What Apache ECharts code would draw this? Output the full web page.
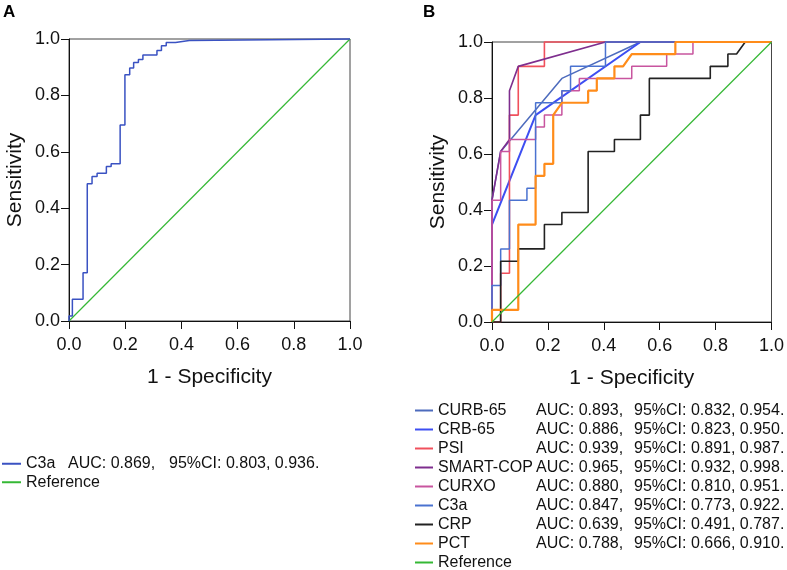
<!DOCTYPE html>
<html>
<head>
<meta charset="utf-8">
<script src="https://cdn.jsdelivr.net/npm/echarts@6/dist/echarts.min.js"></script>
<style>
html,body{margin:0;padding:0;background:#fff;}
#chart{width:787px;height:570px;}
</style>
</head>
<body>
<div id="chart"></div>
<script>
// ---------- Data ----------
const tickValues = [0, 0.2, 0.4, 0.6, 0.8, 1.0];
const tickLabels = ['0.0', '0.2', '0.4', '0.6', '0.8', '1.0'];

// Panel A : C3a
const aC3aX = [0, 0, 0.012, 0.012, 0.050, 0.050, 0.065, 0.065, 0.082, 0.082, 0.100, 0.100, 0.133, 0.133, 0.150, 0.150, 0.182, 0.182, 0.199, 0.199, 0.216, 0.216, 0.230, 0.230, 0.247, 0.247, 0.263, 0.263, 0.313, 0.313, 0.329, 0.329, 0.346, 0.346, 0.379, 0.379, 0.428, 0.428, 1];
const aC3aY = [0, 0.018, 0.018, 0.077, 0.077, 0.171, 0.171, 0.487, 0.487, 0.512, 0.512, 0.524, 0.524, 0.548, 0.548, 0.558, 0.558, 0.695, 0.695, 0.873, 0.873, 0.897, 0.897, 0.917, 0.917, 0.927, 0.927, 0.943, 0.943, 0.959, 0.959, 0.976, 0.976, 0.988, 0.988, 0.995, 0.995, 1, 1];
const refX = [0, 1];
const refY = [0, 1];

// Panel B
const curbX = [0, 0, 0.031, 0.25, 0.531, 1];
const curbY = [0, 0.435, 0.609, 0.870, 1, 1];
const crbX = [0, 0, 0.156, 0.531, 1];
const crbY = [0, 0.348, 0.739, 1, 1];
const psiX = [0, 0.031, 0.031, 0.0625, 0.0625, 0.094, 0.094, 0.1875, 0.1875, 1];
const psiY = [0, 0, 0.174, 0.174, 0.739, 0.739, 0.913, 0.913, 1, 1];
const smartX = [0, 0, 0.031, 0.0625, 0.0625, 0.094, 0.406, 1];
const smartY = [0, 0.435, 0.609, 0.652, 0.826, 0.913, 1, 1];
const curxoX = [0, 0, 0.031, 0.031, 0.0625, 0.0625, 0.156, 0.156, 0.1875, 0.1875, 0.25, 0.25, 0.3125, 0.3125, 0.5, 0.5, 0.625, 0.625, 0.719, 0.719, 1];
const curxoY = [0, 0.435, 0.435, 0.609, 0.609, 0.652, 0.652, 0.696, 0.696, 0.739, 0.739, 0.826, 0.826, 0.870, 0.870, 0.913, 0.913, 0.957, 0.957, 1, 1];
const bC3aX = [0, 0, 0.031, 0.031, 0.0625, 0.0625, 0.125, 0.125, 0.156, 0.156, 0.25, 0.25, 0.281, 0.281, 0.406, 0.406, 1];
const bC3aY = [0, 0.130, 0.130, 0.261, 0.261, 0.435, 0.435, 0.478, 0.478, 0.783, 0.783, 0.826, 0.826, 0.913, 0.913, 1, 1];
const crpX = [0, 0.031, 0.031, 0.094, 0.094, 0.1875, 0.1875, 0.25, 0.25, 0.344, 0.344, 0.438, 0.438, 0.531, 0.531, 0.563, 0.563, 0.781, 0.781, 0.844, 0.844, 0.875, 0.906, 1];
const crpY = [0, 0, 0.217, 0.217, 0.261, 0.261, 0.348, 0.348, 0.391, 0.391, 0.609, 0.609, 0.652, 0.652, 0.739, 0.739, 0.870, 0.870, 0.913, 0.913, 0.957, 0.957, 1, 1];
const pctX = [0, 0, 0.094, 0.094, 0.156, 0.156, 0.1875, 0.1875, 0.219, 0.219, 0.25, 0.344, 0.344, 0.375, 0.375, 0.438, 0.438, 0.469, 0.5, 0.656, 0.656, 1];
const pctY = [0, 0.043, 0.043, 0.348, 0.348, 0.522, 0.522, 0.565, 0.565, 0.739, 0.783, 0.783, 0.826, 0.826, 0.870, 0.870, 0.913, 0.913, 0.957, 0.957, 1, 1];

// Legend texts
const namesA = ['C3a', 'Reference'];
const aucA = ['0.869'];
const ciLowA = ['0.803'];
const ciHighA = ['0.936'];
const namesB = ['CURB-65', 'CRB-65', 'PSI', 'SMART-COP', 'CURXO', 'C3a', 'CRP', 'PCT', 'Reference'];
const aucB = ['0.893', '0.886', '0.939', '0.965', '0.880', '0.847', '0.639', '0.788'];
const ciLowB = ['0.832', '0.823', '0.891', '0.932', '0.810', '0.773', '0.491', '0.666'];
const ciHighB = ['0.954', '0.950', '0.987', '0.998', '0.951', '0.922', '0.787', '0.910'];

// ---------- Styling ----------
const FONT = "'Liberation Sans', Arial, Helvetica, sans-serif";
const colorsA = ['#3a52c2', '#35b835'];
const colorsB = ['#4d6bbd', '#3d4ef2', '#f0505c', '#7e2e8e', '#c8559f', '#4a72d0', '#222222', '#ff8c1a', '#35b835'];
const widthsB = [1.5, 2, 1.6, 1.6, 1.5, 1.5, 1.6, 2.2, 1.2];

function pairs(xs, ys) { return xs.map((x, i) => [x, ys[i]]); }

const curvesB = [
  pairs(curbX, curbY), pairs(crbX, crbY), pairs(psiX, psiY), pairs(smartX, smartY),
  pairs(curxoX, curxoY), pairs(bC3aX, bC3aY), pairs(crpX, crpY), pairs(pctX, pctY),
  pairs(refX, refY)
];

function tickFmt(v) { return tickLabels[tickValues.findIndex(t => Math.abs(t - v) < 1e-6)]; }

function xAxisFor(gi) {
  return {
    type: 'value', gridIndex: gi, min: 0, max: 1, interval: 0.2,
    name: '1 - Specificity', nameLocation: 'middle', nameGap: 46,
    nameTextStyle: { fontSize: 21, color: '#111', fontFamily: FONT },
    axisLine: { show: true, onZero: false, lineStyle: { color: '#111', width: 1 } },
    axisTick: { show: true, length: 8, lineStyle: { color: '#111', width: 1 } },
    axisLabel: { margin: 15, fontSize: 18, color: '#111', fontFamily: FONT, formatter: tickFmt },
    splitLine: { show: false }
  };
}
function yAxisFor(gi) {
  return {
    type: 'value', gridIndex: gi, min: 0, max: 1, interval: 0.2,
    name: 'Sensitivity', nameLocation: 'middle', nameGap: 43, nameRotate: 90,
    nameTextStyle: { fontSize: 21, color: '#111', fontFamily: FONT },
    axisLine: { show: true, onZero: false, lineStyle: { color: '#111', width: 1 } },
    axisTick: { show: true, length: 8, lineStyle: { color: '#111', width: 1 } },
    axisLabel: { margin: 9, fontSize: 18, color: '#111', fontFamily: FONT, formatter: tickFmt },
    splitLine: { show: false }
  };
}

const series = [];
series.push({
  name: 'A:' + namesA[0], type: 'line', xAxisIndex: 0, yAxisIndex: 0,
  data: pairs(aC3aX, aC3aY), showSymbol: false, symbol: 'none', clip: false,
  itemStyle: { color: colorsA[0] }, lineStyle: { color: colorsA[0], width: 1.5 }, z: 3
});
series.push({
  name: 'A:' + namesA[1], type: 'line', xAxisIndex: 0, yAxisIndex: 0,
  data: pairs(refX, refY), showSymbol: false, symbol: 'none', clip: false,
  itemStyle: { color: colorsA[1] }, lineStyle: { color: colorsA[1], width: 1.2 }, z: 2
});
namesB.forEach((n, i) => {
  series.push({
    name: 'B:' + n, type: 'line', xAxisIndex: 1, yAxisIndex: 1,
    data: curvesB[i], showSymbol: false, symbol: 'none', clip: false,
    itemStyle: { color: colorsB[i] }, lineStyle: { color: colorsB[i], width: widthsB[i] },
    z: 3 + i
  });
});

const legendTextA = {};
namesA.forEach((n, i) => {
  legendTextA['A:' + n] = i < aucA.length
    ? '{n|' + n + '}{a|AUC: ' + aucA[i] + ',}{c|95%CI: ' + ciLowA[i] + ', ' + ciHighA[i] + '.}'
    : '{n|' + n + '}';
});
const legendTextB = {};
namesB.forEach((n, i) => {
  legendTextB['B:' + n] = i < aucB.length
    ? '{n|' + n + '}{a|AUC: ' + aucB[i] + ',}{c|95%CI: ' + ciLowB[i] + ', ' + ciHighB[i] + '.}'
    : '{n|' + n + '}';
});

const option = {
  animation: false,
  backgroundColor: '#fff',
  grid: [
    { left: 69, top: 39, width: 281, height: 282, show: true, borderColor: '#444', borderWidth: 1, backgroundColor: 'transparent' },
    { left: 492, top: 42, width: 280, height: 280, show: true, borderColor: '#444', borderWidth: 1, backgroundColor: 'transparent' }
  ],
  xAxis: [xAxisFor(0), xAxisFor(1)],
  yAxis: [yAxisFor(0), yAxisFor(1)],
  legend: [
    {
      data: namesA.map(n => 'A:' + n), orient: 'vertical', left: 2, top: 454.5, padding: 0,
      itemWidth: 19, itemHeight: 2, itemGap: 0, icon: 'rect', selectedMode: false,
      formatter: name => legendTextA[name],
      textStyle: { fontSize: 16, color: '#111', fontFamily: FONT, lineHeight: 18.5,
        rich: { n: { width: 42, fontSize: 16, fontFamily: FONT, color: '#111' },
                a: { width: 101, fontSize: 16, fontFamily: FONT, color: '#111' },
                c: { fontSize: 16, fontFamily: FONT, color: '#111' } } }
    },
    {
      data: namesB.map(n => 'B:' + n), orient: 'vertical', left: 415, top: 401, height: 172, padding: 0,
      itemWidth: 18, itemHeight: 2, itemGap: 0, icon: 'rect', selectedMode: false,
      formatter: name => legendTextB[name],
      textStyle: { fontSize: 16, color: '#111', fontFamily: FONT, lineHeight: 19,
        rich: { n: { width: 98, fontSize: 16, fontFamily: FONT, color: '#111' },
                a: { width: 98, fontSize: 16, fontFamily: FONT, color: '#111' },
                c: { fontSize: 16, fontFamily: FONT, color: '#111' } } }
    }
  ],
  graphic: [
    { type: 'text', left: 3, top: 4, style: { text: 'A', fontSize: 17, fontWeight: 'bold', fontFamily: FONT, fill: '#000' } },
    { type: 'text', left: 423, top: 4, style: { text: 'B', fontSize: 17, fontWeight: 'bold', fontFamily: FONT, fill: '#000' } }
  ],
  series: series
};

const chart = echarts.init(document.getElementById('chart'), null, { renderer: 'canvas' });
chart.setOption(option);
</script>
</body>
</html>
